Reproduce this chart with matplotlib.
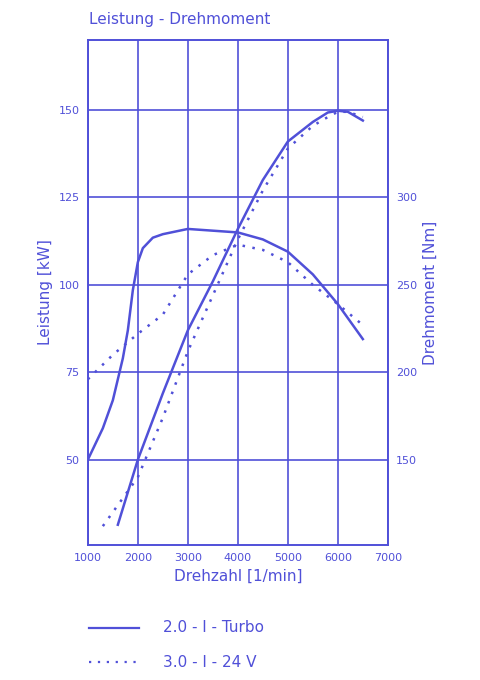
import matplotlib
matplotlib.use("Agg")
import matplotlib.pyplot as plt
from matplotlib.lines import Line2D

rpm_turbo_p = [1600, 2000, 2500, 3000, 3500, 4000, 4500, 5000, 5500, 5800, 6000, 6200, 6500]
kw_turbo = [31.4, 50, 69, 87, 101, 116, 130, 141, 146.6, 149.3, 149.8, 149.5, 147]
rpm_v6_p = [1300, 2000, 2500, 3000, 3500, 4000, 4500, 5000, 5500, 5800, 6000, 6200, 6500]
kw_v6 = [31, 45, 62, 81, 97, 113, 127, 139, 145.5, 148, 149.5, 149.5, 148]
rpm_turbo_t = [1000, 1300, 1500, 1700, 1800, 1900, 2000, 2100, 2300, 2500, 3000, 3500, 4000, 4500, 5000, 5500, 6000, 6500]
nm_turbo = [150, 168, 184, 208, 224, 247, 263, 271, 277, 279, 282, 281, 280, 276, 269, 256, 239, 219]
rpm_v6_t = [1000, 1500, 2000, 2500, 3000, 3500, 4000, 4500, 5000, 5500, 6000, 6500]
nm_v6 = [196, 210, 222, 233, 256, 267, 273, 270, 263, 250, 239, 227]

C = "#5050d8"
fig = plt.figure(figsize=(4.8, 6.8), dpi=100)
ax = fig.add_axes([0.183, 0.199, 0.625, 0.742])
ax.set_xlim(1000, 7000)
ax.set_ylim(25.7, 170)
ax2 = ax.twinx()
ax2.set_ylim(300 + (25.7 - 125) * 2, 300 + (170 - 125) * 2)

ax.plot(rpm_turbo_p, kw_turbo, color=C, lw=1.8)
ax.plot(rpm_v6_p, kw_v6, color=C, lw=1.8, ls=(0, (1, 3)))
ax2.plot(rpm_turbo_t, nm_turbo, color=C, lw=1.8)
ax2.plot(rpm_v6_t, nm_v6, color=C, lw=1.8, ls=(0, (1, 3)))

ax.set_xticks(range(1000, 7001, 1000))
ax.set_yticks([50, 75, 100, 125, 150])
ax2.set_yticks([150, 200, 250, 300])
ax.grid(True, color=C, lw=1.2)
for a in (ax, ax2):
    a.tick_params(colors=C, labelsize=8, length=0, pad=6)
    for s in a.spines.values():
        s.set_color(C); s.set_linewidth(1.2)
ax.set_ylabel("Leistung [kW]", color=C, fontsize=11)
ax2.set_ylabel("Drehmoment [Nm]", color=C, fontsize=11)
ax.set_xlabel("Drehzahl [1/min]", color=C, fontsize=11)
fig.text(0.185, 0.972, "Leistung - Drehmoment", color=C, fontsize=11, va="center")

fig.add_artist(Line2D([0.185, 0.29], [0.077, 0.077], color=C, lw=1.6))
fig.add_artist(Line2D([0.185, 0.29], [0.026, 0.026], color=C, lw=1.6, ls=(0, (1, 3))))
fig.text(0.34, 0.077, "2.0 - l - Turbo", color=C, fontsize=11, va="center")
fig.text(0.34, 0.026, "3.0 - l - 24 V", color=C, fontsize=11, va="center")
fig.savefig("out.png")
